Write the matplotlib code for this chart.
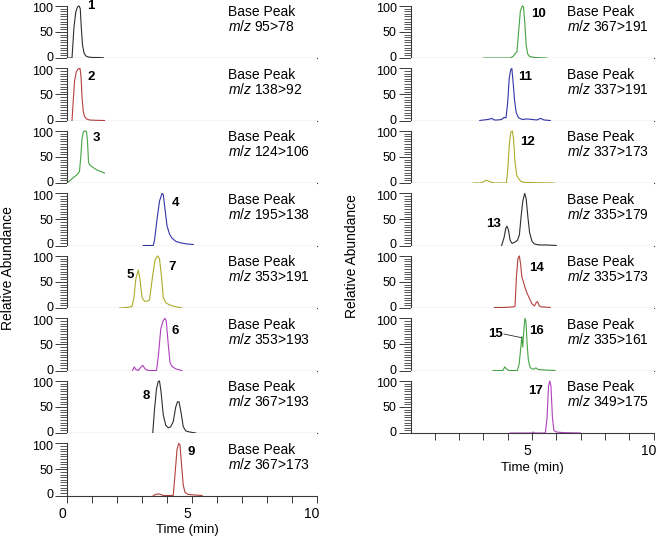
import matplotlib
matplotlib.use("Agg")
import matplotlib.pyplot as plt
import matplotlib.transforms as mtransforms

plt.rcParams['font.family'] = ['Liberation Sans', 'DejaVu Sans']
plt.rcParams['font.size'] = 10
plt.rcParams['mathtext.fontset'] = 'custom'
plt.rcParams['mathtext.it'] = 'Liberation Sans:italic'
plt.rcParams['mathtext.rm'] = 'Liberation Sans'

# ---- left column traces (time in min, relative abundance in %) ----
t_1 = [0, 0.2, 0.22, 0.28, 0.35, 0.42, 0.48, 0.53, 0.57, 0.62, 0.68, 0.75, 0.85, 1.0, 1.2, 1.45]
y_1 = [0, 0, 15, 60, 88, 98, 100, 95, 60, 25, 10, 4, 2, 1, 1, 0.5]

t_2 = [0.2, 0.24, 0.3, 0.37, 0.44, 0.52, 0.56, 0.6, 0.65, 0.7, 0.78, 0.9, 1.1, 1.5]
y_2 = [0, 30, 75, 93, 99, 100, 85, 45, 18, 8, 3, 1, 0.5, 0]

t_3 = [0, 0.1, 0.2, 0.3, 0.4, 0.5, 0.55, 0.6, 0.66, 0.72, 0.78, 0.82, 0.86, 0.9, 1.0, 1.1, 1.2, 1.35, 1.5]
y_3 = [0, 4, 8, 12, 16, 22, 50, 85, 99, 100, 99, 80, 40, 35, 31, 28, 25, 22, 19]

t_4 = [3.05, 3.45, 3.5, 3.6, 3.7, 3.8, 3.85, 3.92, 4.0, 4.1, 4.2, 4.35, 4.55, 4.8, 5.05]
y_4 = [0, 0, 10, 50, 85, 100, 98, 70, 38, 22, 14, 8, 5, 3, 2]

t_57 = [2.1, 2.4, 2.6, 2.68, 2.75, 2.85, 2.92, 3.0, 3.1, 3.2, 3.3, 3.42, 3.52, 3.62, 3.7,
        3.78, 3.85, 3.95, 4.1, 4.3, 4.6]
y_57 = [0, 1, 3, 20, 55, 73, 55, 20, 13, 13, 15, 60, 92, 100, 95, 60, 20, 10, 6, 3, 0]

t_6 = [2.62, 2.69, 2.75, 2.85, 2.95, 3.03, 3.12, 3.25, 3.58, 3.66, 3.75, 3.85, 3.92, 3.97,
       4.05, 4.12, 4.2, 4.35, 4.6]
y_6 = [0, 7, 2, 0, 6, 10, 3, 0, 0, 30, 80, 96, 100, 95, 50, 15, 8, 3, 0]

t_8 = [3.43, 3.5, 3.58, 3.65, 3.7, 3.76, 3.85, 3.95, 4.05, 4.15, 4.25, 4.35, 4.42, 4.48,
       4.56, 4.65, 4.75, 4.9, 5.15]
y_8 = [0, 45, 85, 99, 100, 80, 35, 15, 10, 12, 22, 50, 60, 60, 40, 12, 4, 2, 0]

t_9 = [3.45, 3.55, 3.65, 3.75, 3.85, 4.25, 4.32, 4.4, 4.47, 4.52, 4.58, 4.65, 4.72, 4.85, 5.1, 5.4]
y_9 = [0, 2, 3, 2, 0, 0, 40, 88, 100, 97, 60, 20, 6, 2, 1, 0]

# ---- right column traces ----
t_10 = [3.0, 4.1, 4.22, 4.3, 4.38, 4.45, 4.52, 4.6, 4.65, 4.7, 4.76, 4.82, 4.9, 5.1, 5.6]
y_10 = [0, 0, 3, 8, 12, 50, 90, 100, 98, 70, 25, 8, 3, 1, 0]

t_11 = [2.85, 3.0, 3.2, 3.35, 3.45, 3.6, 3.75, 3.85, 3.93, 4.0, 4.06, 4.12, 4.17, 4.22,
        4.28, 4.35, 4.45, 4.6, 4.8, 5.0, 5.2, 5.35, 5.5, 5.75]
y_11 = [0, 1, 2, 4, 1, 1, 2, 6, 5, 35, 80, 97, 100, 75, 40, 15, 5, 2, 3, 2, 1, 4, 1, 0]

t_12 = [2.58, 2.9, 3.05, 3.15, 3.25, 3.35, 3.48, 3.95, 4.0, 4.07, 4.13, 4.19, 4.24, 4.3,
        4.37, 4.45, 4.55, 4.7, 4.9, 5.2, 5.9]
y_12 = [0, 0, 4, 5, 3, 1, 0, 0, 25, 75, 98, 100, 85, 40, 15, 8, 3, 1, 1, 0.5, 0]

t_13 = [3.75, 3.85, 3.92, 3.97, 4.03, 4.1, 4.18, 4.28, 4.4, 4.48, 4.55, 4.62, 4.7, 4.76,
        4.83, 4.9, 5.0, 5.1, 5.3, 5.6, 6.0]
y_13 = [0, 15, 33, 37, 30, 10, 4, 6, 10, 20, 55, 85, 100, 90, 55, 25, 8, 3, 1, 1, 0]

t_14 = [3.45, 3.8, 4.2, 4.3, 4.36, 4.42, 4.48, 4.53, 4.58, 4.65, 4.72, 4.8, 4.9, 5.0, 5.1,
        5.18, 5.23, 5.3, 5.4, 5.5, 5.75]
y_14 = [1, 1, 2, 3, 60, 95, 100, 85, 60, 50, 38, 28, 18, 8, 4, 11, 12, 4, 2, 2, 1]

t_1516 = [3.4, 3.8, 3.88, 3.95, 4.05, 4.4, 4.47, 4.53, 4.58, 4.62, 4.66, 4.71, 4.75, 4.8,
          4.85, 4.92, 5.0, 5.1, 5.16, 5.25, 5.5, 5.95]
y_1516 = [0, 0, 7, 3, 0, 0, 12, 40, 65, 45, 75, 100, 95, 50, 20, 6, 3, 3, 5, 2, 1, 0]

t_17 = [4.1, 5.0, 5.05, 5.1, 5.55, 5.62, 5.68, 5.73, 5.78, 5.84, 5.9, 6.0, 6.2, 6.5, 7.0]
y_17 = [0, 0, 2, 0, 0, 30, 90, 100, 90, 30, 5, 2, 1, 0.5, 0]

left_transitions = ['95>78', '138>92', '124>106', '195>138', '353>191', '353>193', '367>193', '367>173']
right_transitions = ['367>191', '337>191', '337>173', '335>179', '335>173', '335>161', '349>175']

# peak labels: (text, time, abundance)
left_labels = [[('1', 0.94, 99)], [('2', 0.98, 83)], [('3', 1.18, 86)], [('4', 4.32, 81)],
               [('5', 2.52, 63), ('7', 4.22, 78)], [('6', 4.32, 75)], [('8', 3.18, 71)],
               [('9', 4.98, 83)]]
right_labels = [[('10', 5.27, 85)], [('11', 4.71, 84)], [('12', 4.81, 79)], [('13', 3.4, 42)],
                [('14', 5.18, 77)], [('15', 3.5, 70), ('16', 5.18, 75)], [('17', 5.14, 81)]]

BLACK = '#2e2e2e'
RED = '#b2403d'
GREEN = '#45a445'
BLUE = '#3434a8'
OLIVE = '#adad2a'
MAGENTA = '#b040bd'

left_traces = [(t_1, y_1, BLACK), (t_2, y_2, RED), (t_3, y_3, GREEN), (t_4, y_4, BLUE),
               (t_57, y_57, OLIVE), (t_6, y_6, MAGENTA), (t_8, y_8, BLACK), (t_9, y_9, RED)]
right_traces = [(t_10, y_10, GREEN), (t_11, y_11, BLUE), (t_12, y_12, OLIVE), (t_13, y_13, BLACK),
                (t_14, y_14, RED), (t_1516, y_1516, GREEN), (t_17, y_17, MAGENTA)]

W, H = 660, 539
fig = plt.figure(figsize=(W / 100, H / 100), dpi=100)
AXC = '#3a3a3a'
PANEL_H = 62.5
FIRST_BASE = 58


def make_column(x0, width, traces, transitions, labels, bottom_ticks, bottom_labels):
    n = len(traces)
    axes = []
    for i in range(n):
        base = FIRST_BASE + PANEL_H * i
        ax = fig.add_axes([x0 / W, 1 - base / H, width / W, PANEL_H / H])
        t, y, c = traces[i]
        ax.plot(t, y, color=c, lw=0.8)
        ax.set_xlim(0, 10)
        ax.set_ylim(0, 120)
        for s in ['top', 'right']:
            ax.spines[s].set_visible(False)
        ax.spines['left'].set_bounds(0, 100)
        for s in ['left', 'bottom']:
            ax.spines[s].set_color(AXC)
            ax.spines[s].set_linewidth(0.8)
        ax.set_yticks([0, 50, 100])
        ax.set_yticks(range(0, 101, 5), minor=True)
        ax.tick_params(axis='y', which='major', length=8.5, width=0.7, color=AXC, pad=1.5,
                       labelsize=9)
        ax.tick_params(axis='y', which='minor', length=5, width=0.6, color=AXC)
        # nudge the 0 / 100 labels apart a little, as in the original layout
        ylabs = ax.get_yticklabels()
        ylabs[0].set_transform(ylabs[0].get_transform() +
                               mtransforms.ScaledTranslation(0, 0.015, fig.dpi_scale_trans))
        ylabs[2].set_transform(ylabs[2].get_transform() +
                               mtransforms.ScaledTranslation(0, -0.02, fig.dpi_scale_trans))
        ax.text(6.44, 88, 'Base Peak', fontsize=10, va='center', ha='left')
        ax.text(6.44, 60, r'$\mathit{m/z}$ ' + transitions[i], fontsize=10, va='center', ha='left')
        for lab, lx, ly in labels[i]:
            ax.text(lx, ly, lab, fontsize=9.5, fontweight='bold', ha='center', va='center')
        if i == n - 1:
            ax.set_xticks(bottom_ticks)
            ax.set_xticklabels(bottom_labels)
            ax.tick_params(axis='x', direction='out', length=5, width=0.7, color=AXC, pad=3,
                           labelsize=10)
            off = mtransforms.ScaledTranslation(-0.05, 0, fig.dpi_scale_trans)
            for tl in ax.get_xticklabels():
                tl.set_transform(tl.get_transform() + off)
        else:
            ax.tick_params(axis='x', length=0, labelbottom=False)
        axes.append(ax)
    return axes


left_axes = make_column(67, 250, left_traces, left_transitions, left_labels,
                        list(range(11)), ['0', '', '', '', '', '5', '', '', '', '', '10'])
right_axes = make_column(410.5, 243, right_traces, right_transitions, right_labels,
                         list(range(1, 11)), ['', '', '', '', '5', '', '', '', '', '10'])

# leader line for peak 15
right_axes[5].plot([3.85, 4.57], [70, 63], color=BLACK, lw=0.6)

fig.text(187 / W, 1 - 530 / H, 'Time (min)', ha='center', va='center', fontsize=9.5)
fig.text(532 / W, 1 - 468 / H, 'Time (min)', ha='center', va='center', fontsize=9.5)
fig.text(8 / W, 1 - 268 / H, 'Relative Abundance', rotation=90, ha='center', va='center', fontsize=10)
fig.text(352 / W, 1 - 256 / H, 'Relative Abundance', rotation=90, ha='center', va='center', fontsize=10)

fig.savefig('out.png', dpi=100, facecolor='white')
